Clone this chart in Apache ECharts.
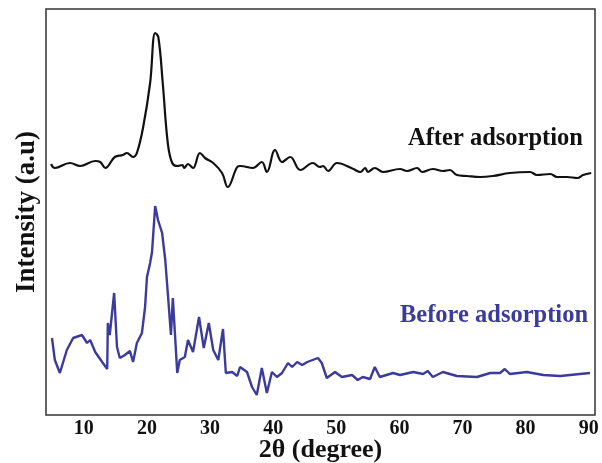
<!DOCTYPE html>
<html>
<head>
<meta charset="utf-8">
<script src="https://cdn.jsdelivr.net/npm/echarts@6/dist/echarts.min.js"></script>
<style>
  html, body { margin: 0; padding: 0; background: #fff; }
  #chart { width: 602px; height: 463px; }
</style>
</head>
<body>
<div id="chart"></div>
<script>
// 2θ ticks
const xTicks = [10, 20, 30, 40, 50, 60, 70, 80, 90];

// after adsorption (black), [2θ, intensity a.u.]
const afterTheta = [4.8, 5.4, 7.8, 9.4, 11.8, 12.6, 13.4, 14.9, 16.2, 16.8, 17.8, 18.4, 19.4, 20.5, 21.3, 21.8, 22.5, 23.3, 24.0, 24.8, 25.6, 25.9, 26.5, 27.3, 28.4, 29.2, 30.5, 31.9, 32.8, 34.3, 34.8, 36.8, 38.2, 39.0, 40.3, 41.4, 42.7, 44.3, 46.3, 47.4, 47.9, 48.7, 50.1, 52.7, 53.8, 54.6, 55.0, 56.1, 57.4, 60.1, 61.2, 62.8, 63.6, 65.3, 66.9, 68.0, 69.1, 70.7, 72.8, 74.8, 77.5, 80.7, 81.8, 83.9, 85.0, 86.6, 88.2, 89.1, 90.4];
const afterInt = [251, 247, 252, 249, 254, 253, 247, 258, 260, 262, 258, 262, 288, 332, 382, 378, 332, 272, 252, 249, 250, 247, 251, 247, 262, 257, 252, 242, 228, 248, 249, 247, 253, 243, 265, 253, 258, 245, 252, 248, 249, 244, 252, 246, 243, 247, 243, 247, 243, 246, 244, 247, 243, 246, 244, 245, 240, 239, 238, 239, 242, 243, 240, 241, 238, 238, 237, 240, 242];

// before adsorption (blue)
const beforeTheta = [4.95, 5.4, 6.2, 7.3, 8.3, 9.7, 10.5, 11.0, 11.8, 12.9, 13.7, 13.8, 14.1, 14.8, 15.25, 15.7, 16.5, 17.3, 17.8, 18.4, 19.2, 19.7, 20.0, 20.5, 20.8, 21.3, 21.75, 22.4, 22.9, 23.3, 23.8, 24.1, 24.8, 25.2, 26.0, 26.5, 27.3, 28.25, 29.0, 29.8, 30.5, 31.3, 32.05, 32.5, 33.5, 34.3, 34.75, 35.85, 36.65, 37.4, 38.2, 39.0, 39.8, 40.6, 41.4, 42.35, 43.0, 43.8, 44.6, 45.4, 47.1, 47.7, 48.5, 49.8, 50.9, 52.5, 53.4, 54.2, 55.35, 56.1, 56.9, 59.0, 60.1, 62.2, 63.75, 64.5, 65.3, 66.9, 69.1, 72.3, 74.4, 75.95, 76.7, 77.5, 80.2, 82.8, 85.5, 88.6, 90.2];
const beforeInt = [77, 55, 42, 65, 77, 80, 72, 75, 63, 53, 46, 92, 80, 122, 68, 57, 60, 64, 53, 72, 82, 108, 138, 152, 163, 209, 195, 182, 155, 122, 80, 117, 42, 55, 58, 75, 63, 98, 67, 92, 65, 55, 86, 42, 43, 39, 48, 43, 28, 20, 47, 22, 43, 38, 42, 52, 48, 53, 50, 53, 57, 52, 37, 43, 38, 40, 35, 38, 36, 48, 38, 42, 40, 43, 41, 44, 38, 43, 39, 38, 42, 42, 46, 41, 43, 40, 39, 41, 42];

const serif = 'Liberation Serif';

function pairs(xs, ys) {
  return xs.map((x, i) => [x, ys[i]]);
}

const chart = echarts.init(document.getElementById('chart'));
chart.setOption({
  animation: false,
  grid: {
    left: 46, right: 7, top: 9, bottom: 48,
    outerBoundsMode: 'none',
    show: true, borderColor: '#333', borderWidth: 1.5
  },
  xAxis: {
    type: 'value',
    min: 4, max: 91,
    name: '2θ (degree)',
    nameLocation: 'middle',
    nameGap: 22,
    nameMoveOverlap: false,
    nameTextStyle: { fontFamily: serif, fontWeight: 'bold', fontSize: 26, color: '#111' },
    axisLine: { show: false },
    axisTick: { show: false },
    splitLine: { show: false },
    axisLabel: {
      customValues: xTicks,
      margin: 4,
      fontFamily: serif, fontWeight: 'bold', fontSize: 20, color: '#111'
    }
  },
  yAxis: {
    type: 'value',
    min: 0, max: 406,
    name: 'Intensity (a.u)',
    nameLocation: 'middle',
    nameGap: 5,
    nameMoveOverlap: false,
    nameTextStyle: { fontFamily: serif, fontWeight: 'bold', fontSize: 27, color: '#111' },
    axisLine: { show: false },
    axisTick: { show: false },
    axisLabel: { show: false },
    splitLine: { show: false }
  },
  graphic: [
    {
      type: 'text', left: 408, top: 126,
      style: { text: 'After adsorption', fontFamily: serif, fontWeight: 'bold', fontSize: 24.5, fill: '#111' }
    },
    {
      type: 'text', left: 400, top: 303,
      style: { text: 'Before adsorption', fontFamily: serif, fontWeight: 'bold', fontSize: 24.5, fill: '#3b3b9c' }
    }
  ],
  series: [
    {
      name: 'After adsorption',
      type: 'line',
      data: pairs(afterTheta, afterInt),
      smooth: 0.4,
      showSymbol: false,
      lineStyle: { color: '#111', width: 2.2 }
    },
    {
      name: 'Before adsorption',
      type: 'line',
      data: pairs(beforeTheta, beforeInt),
      showSymbol: false,
      lineStyle: { color: '#3b3b9c', width: 2.4 }
    }
  ]
});
</script>
</body>
</html>
